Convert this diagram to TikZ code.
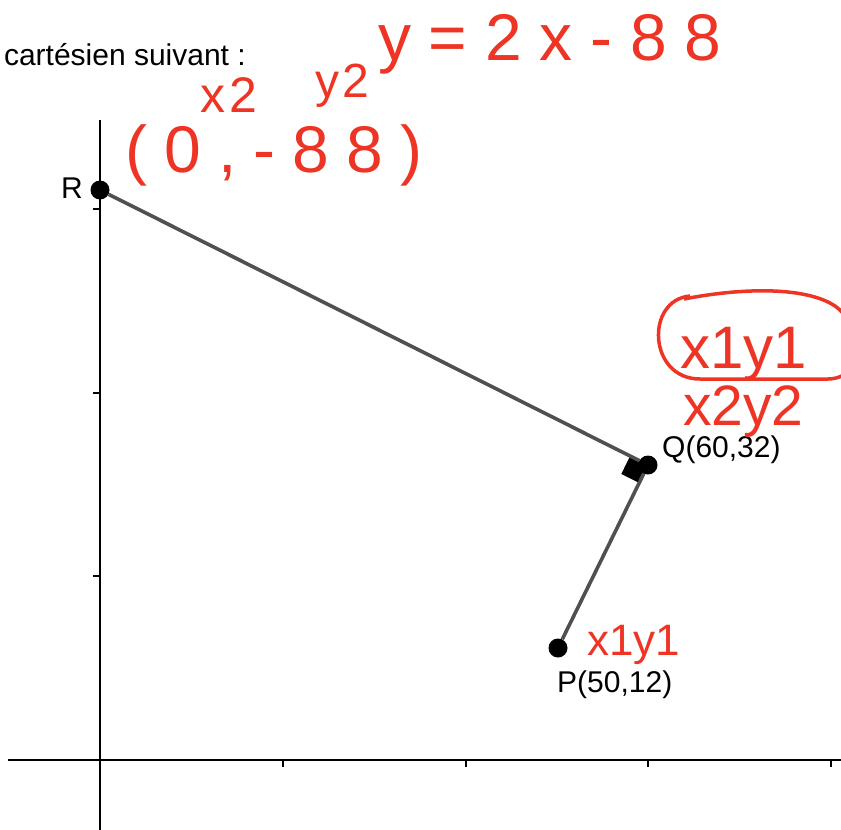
\documentclass[tikz,border=0pt]{standalone}
\usepackage{fontspec}
\setmainfont{Liberation Sans}
\usetikzlibrary{calc}
\definecolor{ink}{RGB}{238,52,36}
\definecolor{seggray}{RGB}{80,80,80}
\newcommand{\hw}[3]{{\fontsize{#1}{#1}\selectfont\addfontfeatures{LetterSpace=#2}#3}}
\begin{document}
\begin{tikzpicture}[x=1pt,y=-1pt,
  dot/.style={circle,fill=black,inner sep=0pt,minimum size=19pt},
  seg/.style={draw=seggray,line width=3.6pt},
  axisline/.style={black,line width=2.2pt},
  tickmark/.style={black,line width=1.5pt},
  lbl/.style={inner sep=0pt,font=\fontsize{30}{30}\selectfont},
  hand/.style={inner sep=0pt,text=ink},
  loop/.style={draw=ink,line width=3.5pt}]
\useasboundingbox (0,0) rectangle (841,830);
\clip (0,0) rectangle (841,830);
% axes
\coordinate (xl) at (8,760); \coordinate (xr) at (841,760);
\coordinate (yt) at (100,120); \coordinate (yb) at (100,830);
\draw[axisline] (xl) -- (xr);
\draw[axisline,line width=1.6pt] (yt) -- (yb);
\foreach \x in {283,466,648,831} \draw[tickmark] (\x,760) -- (\x,767);
\foreach \y in {209,393,576} \draw[tickmark] (100,\y) -- (93,\y);
% point positions
\coordinate (cR) at (100,190);
\coordinate (cQ) at (648,465);
\coordinate (cP) at (558,648);
% right angle mark
\coordinate (qa) at ($(cQ)!20pt!(cR)$);
\coordinate (qb) at ($(cQ)!20pt!(cP)$);
\fill[black] (cQ) -- (qa) -- ($(qa)+(qb)-(cQ)$) -- (qb) -- cycle;
% points
\node[dot] (R) at (cR) {};
\node[dot] (Q) at (cQ) {};
\node[dot] (P) at (cP) {};
\draw[seg] (R) -- (Q);
\draw[seg] (Q) -- (P);
% labels
\node[lbl,anchor=base east] (tR) at (83,198) {R};
\node[lbl,anchor=base west] (tQ) at (662,457) {Q(60,32)};
\node[lbl,anchor=base west] (tP) at (557,692) {P(50,12)};
\node[lbl,anchor=base east] (title) at (246,65) {cartésien suivant :};
% handwriting
\node[hand,anchor=base west] (eq) at (378,60) {\hw{66}{27}{y=2x-88}};
\node[hand,anchor=base west] (hx2) at (200,112) {\hw{50}{8}{x2}};
\node[hand,anchor=base west] (hy2) at (315,97) {\hw{48}{8}{y2}};
\node[hand,anchor=base west] (pt) at (125,172) {\hw{66}{26}{(0,-88)}};
\node[hand,anchor=base west] (q1) at (680,368) {\hw{60}{0}{x1y1}};
\node[hand,anchor=base west] (q2) at (683,425) {\hw{57}{0}{x2y2}};
\node[hand,anchor=base west] (p1) at (587,655) {\hw{44}{0}{x1y1}};
\draw[loop] (684,299) .. controls (740,288) and (805,286) .. (835,306)
  .. controls (862,325) and (868,378) .. (828,379) -- (700,379)
  .. controls (648,379) and (645,300) .. (690,296);
\end{tikzpicture}
\end{document}
